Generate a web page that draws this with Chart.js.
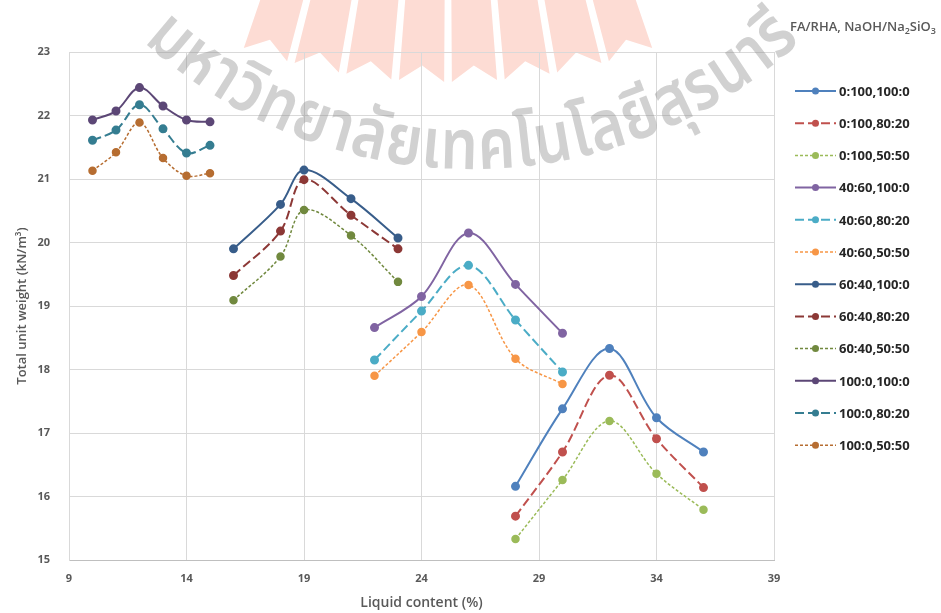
<!DOCTYPE html>
<html>
<head>
<meta charset="utf-8">
<script src="https://cdn.jsdelivr.net/npm/chart.js@4.4.0/dist/chart.umd.min.js"></script>
<style>
body { margin: 0; background: #fff; }
#wrap { width: 941px; height: 613px; }
</style>
</head>
<body>
<div id="wrap"><canvas id="mycanvas" width="941" height="613"></canvas></div>
<script>
// liquid content (%) of each FA/RHA group
var xFA0 = [28, 30, 32, 34, 36];
var xFA40 = [22, 24, 26, 28, 30];
var xFA60 = [16, 18, 19, 21, 23];
var xFA100 = [10, 11, 12, 13, 14, 15];

// total unit weight (kN/m3)
var fa0_100_0 = [16.16, 17.38, 18.33, 17.24, 16.70];
var fa0_80_20 = [15.69, 16.70, 17.91, 16.91, 16.14];
var fa0_50_50 = [15.33, 16.26, 17.19, 16.36, 15.79];
var fa40_100_0 = [18.66, 19.15, 20.15, 19.34, 18.57];
var fa40_80_20 = [18.15, 18.92, 19.64, 18.78, 17.96];
var fa40_50_50 = [17.90, 18.59, 19.33, 18.17, 17.77];
var fa60_100_0 = [19.90, 20.60, 21.14, 20.69, 20.07];
var fa60_80_20 = [19.48, 20.18, 20.99, 20.43, 19.90];
var fa60_50_50 = [19.09, 19.78, 20.51, 20.11, 19.38];
var fa100_100_0 = [21.93, 22.07, 22.44, 22.15, 21.93, 21.90];
var fa100_80_20 = [21.61, 21.77, 22.17, 21.79, 21.41, 21.53];
var fa100_50_50 = [21.13, 21.42, 21.89, 21.33, 21.05, 21.09];

var labels = ['0:100,100:0', '0:100,80:20', '0:100,50:50',
              '40:60,100:0', '40:60,80:20', '40:60,50:50',
              '60:40,100:0', '60:40,80:20', '60:40,50:50',
              '100:0,100:0', '100:0,80:20', '100:0,50:50'];
var xs = [xFA0, xFA0, xFA0, xFA40, xFA40, xFA40, xFA60, xFA60, xFA60, xFA100, xFA100, xFA100];
var ys = [fa0_100_0, fa0_80_20, fa0_50_50, fa40_100_0, fa40_80_20, fa40_50_50,
          fa60_100_0, fa60_80_20, fa60_50_50, fa100_100_0, fa100_80_20, fa100_50_50];
var colors = ['#4f81bd', '#c0504d', '#9bbb59', '#8064a2', '#4bacc6', '#f79646',
              '#385d8a', '#8c3836', '#71893f', '#5c4776', '#357d91', '#b66d31'];
var dashes = [[], [9, 4], [3, 2]];

var xMin = 9, xMax = 39, xStep = 5;
var yMin = 15, yMax = 23, yStep = 1;

var datasets = [];
for (var i = 0; i < labels.length; i++) {
  var pts = [];
  for (var j = 0; j < xs[i].length; j++) pts.push({x: xs[i][j], y: ys[i][j]});
  datasets.push({
    label: labels[i],
    data: pts,
    borderColor: colors[i],
    backgroundColor: colors[i],
    pointBackgroundColor: colors[i],
    pointBorderColor: colors[i],
    borderWidth: i % 3 == 2 ? 1.5 : 2,
    borderDash: dashes[i % 3],
    pointRadius: 3.5,
    tension: 0.35,
    fill: false
  });
}

// pink seal fragment at the top (page watermark), swallowtail rays
var sealPlugin = {
  id: 'seal',
  beforeDraw: function(chart) {
    var ctx = chart.ctx;
    var cx = 448, cy = -550, rTip = 632, rNotch = 616;
    var d2r = Math.PI / 180;
    function pt(a, r) { return [cx - Math.sin(a * d2r) * r, cy + Math.cos(a * d2r) * r]; }
    ctx.save();
    ctx.fillStyle = '#fddcd4';
    for (var a = -16.8; a <= 19.3; a += 4.8) {
      var w = 2.05;
      var p;
      ctx.beginPath();
      p = pt(a - w, 0); ctx.moveTo(p[0], p[1]);
      p = pt(a - w, rTip); ctx.lineTo(p[0], p[1]);
      p = pt(a, rNotch); ctx.lineTo(p[0], p[1]);
      p = pt(a + w, rTip); ctx.lineTo(p[0], p[1]);
      p = pt(a + w, 0); ctx.lineTo(p[0], p[1]);
      ctx.closePath();
      ctx.fill();
    }
    ctx.restore();
  }
};

// grey Thai watermark on an arc
var wmParts = ['ม','ห','า','วิ','ท','ย','า','ลั','ย','เ','ท','ค','โ','น','โ','ล','ยี','สุ','ร','น','า','รี'];
var wmPlugin = {
  id: 'watermark',
  afterDraw: function(chart) {
    var ctx = chart.ctx;
    var cx = 472, cy = -318, R = 469;
    var a0 = -42.5 * Math.PI / 180, a1 = 42.5 * Math.PI / 180;
    var arcLen = (a1 - a0) * R;
    ctx.save();
    ctx.font = '600 70px "Noto Sans Thai", "Noto Sans", "DejaVu Sans", sans-serif';
    var widths = wmParts.map(function(p) { return ctx.measureText(p).width; });
    var total = widths.reduce(function(s, v) { return s + v; }, 0);
    var sx = arcLen / total;
    ctx.fillStyle = 'rgba(140,140,140,0.4)';
    ctx.textAlign = 'center';
    ctx.textBaseline = 'alphabetic';
    var pos = 0;
    for (var k = 0; k < wmParts.length; k++) {
      var mid = pos + widths[k] * sx / 2;
      var th = a0 + mid / R;
      ctx.save();
      ctx.translate(cx + Math.sin(th) * R, cy + Math.cos(th) * R);
      ctx.rotate(-th);
      ctx.scale(Math.min(sx, 1.1), 1);
      ctx.fillText(wmParts[k], 0, 18);
      ctx.restore();
      pos += widths[k] * sx;
    }
    ctx.restore();
  }
};

// legend on the right with its title
var legendPlugin = {
  id: 'sideLegend',
  afterDraw: function(chart) {
    var ctx = chart.ctx;
    ctx.save();
    var big = '600 13px "Open Sans"', small = '600 9px "Open Sans"';
    var parts = [['FA/RHA, NaOH/Na', big, 0], ['2', small, 4], ['SiO', big, 0], ['3', small, 4]];
    var w = 0;
    parts.forEach(function(p) { ctx.font = p[1]; w += ctx.measureText(p[0]).width; });
    var x = 936 - w;
    ctx.fillStyle = '#595959';
    ctx.textBaseline = 'middle';
    parts.forEach(function(p) {
      ctx.font = p[1];
      ctx.fillText(p[0], x, 27 + p[2]);
      x += ctx.measureText(p[0]).width;
    });
    chart.data.datasets.forEach(function(ds, i) {
      var y = 91 + i * 32.2;
      ctx.strokeStyle = ds.borderColor;
      ctx.lineWidth = ds.borderWidth;
      ctx.setLineDash(ds.borderDash);
      ctx.beginPath();
      ctx.moveTo(795, y);
      ctx.lineTo(836, y);
      ctx.stroke();
      ctx.setLineDash([]);
      ctx.fillStyle = ds.pointBackgroundColor;
      ctx.beginPath();
      ctx.arc(815.5, y, 3.5, 0, 2 * Math.PI);
      ctx.fill();
      ctx.fillStyle = '#262626';
      ctx.font = 'bold 13px "Open Sans"';
      ctx.textAlign = 'left';
      ctx.fillText(ds.label, 839, y + 1);
    });
    ctx.restore();
  }
};

var ctx = document.getElementById('mycanvas');
var chart = new Chart(ctx, {
  type: 'line',
  data: { datasets: datasets },
  plugins: [sealPlugin, legendPlugin, wmPlugin],
  options: {
    responsive: false,
    animation: false,
    layout: { padding: { left: 0, top: 52, right: 167, bottom: 0 } },
    plugins: { legend: { display: false }, tooltip: { enabled: false } },
    scales: {
      x: {
        type: 'linear',
        min: xMin, max: xMax,
        afterFit: function(s) { s.height = 53; },
        ticks: { stepSize: xStep, padding: 12, color: '#595959', font: { family: 'Open Sans', size: 11, weight: 'bold' } },
        grid: { color: '#d9d9d9', drawTicks: false },
        border: { color: '#bfbfbf' },
        title: { display: true, text: 'Liquid content (%)', color: '#595959', padding: { top: 0, bottom: 2 },
                 font: { family: 'Open Sans', size: 14, weight: '600' } }
      },
      y: {
        min: yMin, max: yMax,
        afterFit: function(s) { s.width = 69; },
        ticks: { stepSize: yStep, padding: 19, color: '#595959', font: { family: 'Open Sans', size: 11, weight: 'bold' } },
        grid: { color: '#d9d9d9', drawTicks: false },
        border: { color: '#d9d9d9' },
        title: { display: true, text: 'Total unit weight (kN/m³)', color: '#595959', padding: { top: 14, bottom: 0 },
                 font: { family: 'Open Sans', size: 13, weight: '600' } }
      }
    }
  }
});
</script>
</body>
</html>
